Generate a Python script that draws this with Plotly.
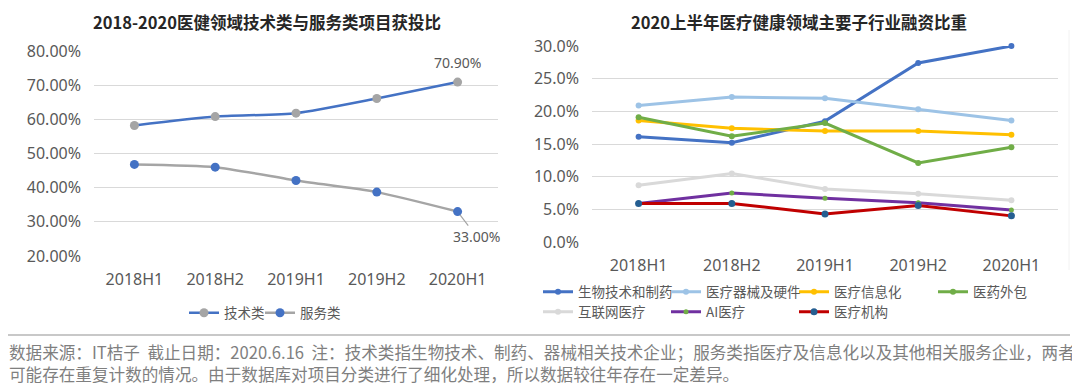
import plotly.graph_objects as go

# ---------------- data ----------------
periods = ["2018H1", "2018H2", "2019H1", "2019H2", "2020H1"]

left_title = "2018-2020医健领域技术类与服务类项目获投比"
tech_name = "技术类"
tech_vals = [58.2, 60.8, 61.8, 66.1, 70.9]
service_name = "服务类"
service_vals = [46.8, 46.0, 42.1, 38.7, 33.0]

right_title = "2020上半年医疗健康领域主要子行业融资比重"
sub_names = ["生物技术和制药", "医疗器械及硬件", "医疗信息化", "医药外包",
             "互联网医疗", "AI医疗", "医疗机构"]
biotech = [16.1, 15.2, 18.5, 27.4, 30.0]
devices = [20.9, 22.2, 22.0, 20.3, 18.6]
info = [18.6, 17.4, 17.0, 17.0, 16.4]
outsourcing = [19.1, 16.2, 18.2, 12.1, 14.5]
internet = [8.7, 10.5, 8.1, 7.4, 6.4]
ai = [5.9, 7.5, 6.7, 6.0, 4.9]
institutions = [5.9, 5.9, 4.3, 5.6, 4.0]
sub_values = [biotech, devices, info, outsourcing, internet, ai, institutions]

footer_lines = [
    "数据来源：IT桔子  截止日期：2020.6.16  注：技术类指生物技术、制药、器械相关技术企业；服务类指医疗及信息化以及其他相关服务企业，两者",
    "可能存在重复计数的情况。由于数据库对项目分类进行了细化处理，所以数据较往年存在一定差异。",
]

# ---------------- styles ----------------
OFF = 8                      # page body margin
W, H = 1080 - OFF, 392 - OFF
FONT = "Noto Sans, Noto Sans CJK SC, sans-serif"
CJK = "Noto Sans CJK SC, Noto Sans, sans-serif"
TXT = "#595959"
GRID = "#D9D9D9"
BLUE = "#4472C4"
GRAY = "#A5A5A5"

line_colors = ["#4472C4", "#9DC3E6", "#FFC000", "#70AD47", "#D9D9D9", "#7030A0", "#C00000"]
marker_colors = ["#4472C4", "#9DC3E6", "#FFC000", "#70AD47", "#D9D9D9", "#70AD47", "#255E91"]
marker_sizes = [6, 6, 6, 6, 6, 5, 7]
legend_of = ["legend2", "legend2", "legend2", "legend2", "legend3", "legend3", "legend3"]
legend_w = [83, 83, 94, 70, 83, 83, 70]

def px_x(p):
    return (p - OFF) / W

def px_y(p):
    return 1 - (p - OFF) / H

fig = go.Figure()

# left chart
fig.add_trace(go.Scatter(
    x=periods, y=tech_vals, name=tech_name, mode="lines+markers",
    line=dict(color=BLUE, width=2.5, shape="spline", smoothing=0.6),
    marker=dict(color=GRAY, size=9),
    xaxis="x", yaxis="y", legend="legend", legendwidth=31, cliponaxis=False,
))
fig.add_trace(go.Scatter(
    x=periods, y=service_vals, name=service_name, mode="lines+markers",
    line=dict(color=GRAY, width=2.5, shape="spline", smoothing=0.6),
    marker=dict(color=BLUE, size=9),
    xaxis="x", yaxis="y", legend="legend", legendwidth=50, cliponaxis=False,
))

# right chart
for i, (nm, vals) in enumerate(zip(sub_names, sub_values)):
    fig.add_trace(go.Scatter(
        x=periods, y=vals, name=nm, mode="lines+markers",
        line=dict(color=line_colors[i], width=3),
        marker=dict(color=marker_colors[i], size=marker_sizes[i]),
        xaxis="x2", yaxis="y2", legend=legend_of[i], legendwidth=legend_w[i],
        cliponaxis=False,
    ))

axis_font = dict(family=FONT, size=16, color=TXT)
common_x = dict(type="category", range=[-0.5, 4.5], showgrid=False, zeroline=False,
                showline=False, ticks="", tickfont=axis_font, ticklabelstandoff=12,
                automargin=False)
common_y = dict(showgrid=True, gridcolor=GRID, gridwidth=1, zeroline=False,
                showline=False, ticks="", tickfont=axis_font, ticksuffix="%",
                ticklabelstandoff=12, automargin=False)

legend_common = dict(orientation="h", xanchor="left", yanchor="middle",
                     bgcolor="rgba(0,0,0,0)", borderwidth=0, itemwidth=30,
                     font=dict(family=CJK, size=13.5, color=TXT), traceorder="normal",
                     itemclick=False, itemdoubleclick=False)

fig.update_layout(
    template="none",
    width=W, height=H,
    margin=dict(l=0, r=0, t=0, b=0, pad=0, autoexpand=False),
    paper_bgcolor="white", plot_bgcolor="white",
    font=dict(family=FONT, color=TXT),
    showlegend=True,
    xaxis=dict(domain=[px_x(94), px_x(498)], anchor="y", **common_x),
    yaxis=dict(domain=[px_y(256), px_y(51)], anchor="x", range=[20, 80],
               tick0=20, dtick=10, tickformat=".2f", **common_y),
    xaxis2=dict(domain=[px_x(592), px_x(1058)], anchor="y2", **common_x),
    yaxis2=dict(domain=[px_y(242), px_y(46)], anchor="x2", range=[0, 30],
                tick0=0, dtick=5, tickformat=".1f", **common_y),
    legend=dict(x=px_x(184), y=px_y(313), **legend_common),
    legend2=dict(x=px_x(538), y=px_y(292), **legend_common),
    legend3=dict(x=px_x(538), y=px_y(312), **legend_common),
)

# titles
fig.add_annotation(text="<b>%s</b>" % left_title, x=px_x(267), y=px_y(9),
                   xref="paper", yref="paper", xanchor="center", yanchor="top",
                   showarrow=False, borderpad=0,
                   font=dict(family=CJK, size=16.5, color="#262626"))
fig.add_annotation(text="<b>%s</b>" % right_title, x=px_x(799), y=px_y(9),
                   xref="paper", yref="paper", xanchor="center", yanchor="top",
                   showarrow=False, borderpad=0,
                   font=dict(family=CJK, size=16.5, color="#262626"))

# data labels
fig.add_annotation(x=periods[-1], y=tech_vals[-1], xref="x", yref="y",
                   text="%.2f%%" % tech_vals[-1], showarrow=False, yshift=20,
                   xanchor="center", yanchor="middle",
                   font=dict(family=FONT, size=14, color=TXT))
fig.add_annotation(x=periods[-1], y=service_vals[-1], xref="x", yref="y",
                   text="%.2f%%" % service_vals[-1], showarrow=True,
                   arrowhead=0, arrowwidth=1.2, arrowcolor=GRAY, standoff=4,
                   ax=19, ay=25, font=dict(family=FONT, size=14, color=TXT))

# footer
fig.add_shape(type="line", xref="paper", yref="paper",
              x0=px_x(OFF), x1=px_x(1070), y0=px_y(335), y1=px_y(335),
              line=dict(color="#C8C8C8", width=2))
fig.add_shape(type="line", xref="paper", yref="paper",
              x0=px_x(1069), x1=px_x(1069), y0=px_y(270), y1=px_y(30),
              line=dict(color="#F2F2F2", width=1))
for k, t in enumerate(footer_lines):
    fig.add_annotation(text=t, x=px_x(7), y=px_y(352 + 22 * k), xref="paper", yref="paper",
                       xanchor="left", yanchor="middle", showarrow=False,
                       font=dict(family=CJK, size=16.6, color="#7F7F7F"))

fig.write_html("out.html")
